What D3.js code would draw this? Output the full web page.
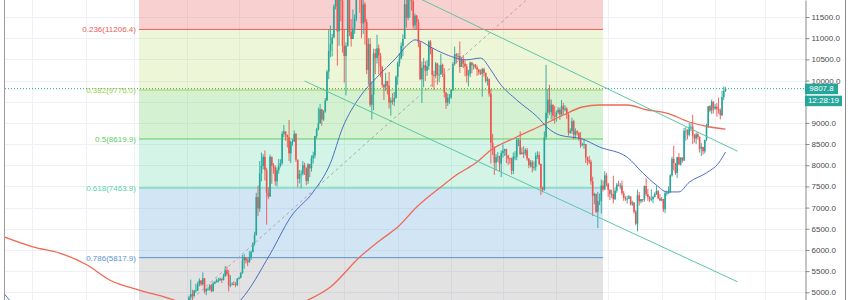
<!DOCTYPE html>
<html><head><meta charset="utf-8">
<script src="https://cdn.jsdelivr.net/npm/d3@7"></script>
<style>html,body{margin:0;padding:0;background:#fff;}svg{display:block;font-family:"Liberation Sans",Arial,sans-serif;}</style>
</head><body><svg id="c" width="850" height="300"></svg>
<script>
// ---------- DATA ----------
const startDate = "2019-04-02"; // first visible daily candle
const opens = [
4140,4880,4960,4910,5040,5040,5190,5280,5190,5330,5020,5070,5070,5160,5030,5210,5240,5280,5280,5320,5290,5380,5520,5430,5160,5180,5200,5190,5170,
5320,5340,5450,5750,5830,5750,5710,5820,5950,6160,6350,7250,6980,7810,7980,8200,7880,7350,7260,8200,7990,7950,7620,7880,7990,8050,8740,8800,8720,8660,8280,
8550,8560,8740,8130,7680,7790,7800,8000,7930,7630,8020,7930,8160,8230,8690,8850,8990,9320,9080,9270,9530,10210,10700,10860,11020,11750,12930,11160,12370,11890,
10820,10580,10820,11950,11150,10980,11230,11460,12300,12570,12100,11350,11800,11380,10250,10860,9430,9670,10640,10530,10760,10590,10330,9900,9840,9990,9880,9480,9530,9500,9590,
10090,10410,10520,10820,10980,11800,11480,11970,11970,11870,11300,11530,11380,10900,10030,10300,10360,10230,10340,10920,10760,10130,10110,10400,10140,10140,10370,10180,9720,9480,9590,
9600,9770,10390,10620,10580,10580,10320,10490,10400,10330,10120,10160,10420,10360,10370,10310,10260,10190,10160,10270,10180,9990,10030,9690,8530,8430,8060,8190,8210,8040,
8290,8340,8380,8230,8160,8150,7870,8200,8200,8590,8590,8260,8300,8280,8360,8160,8000,8070,7950,7960,8220,8240,8030,7470,7420,8660,9240,9550,9250,9430,9170,
9150,9250,9310,9200,9400,9310,9340,9200,8770,8810,9040,8720,8800,8760,8630,8470,8490,8500,8180,8120,8080,7620,7280,7320,6900,7150,7160,7520,7430,7760,
7570,7420,7320,7320,7200,7400,7540,7520,7520,7340,7230,7210,7210,7260,7080,7120,6900,6620,7290,7150,7200,7190,7510,7320,7250,7200,7200,7250,7320,7390,7220,
7170,7200,6960,7340,7350,7360,7760,8150,8050,7820,8190,8020,8180,8110,8810,8820,8720,8900,8910,8700,8630,8730,8670,8390,8430,8330,8600,8900,9390,9290,9500,
9340,9380,9330,9290,9180,9610,9750];
const highs = [
4920,5300,5060,5060,5200,5250,5330,5280,5470,5340,5100,5120,5190,5200,5250,5270,5320,5340,5350,5330,5440,5620,5610,5530,5400,5240,5260,5240,5340,
5370,5480,5880,5900,5830,5800,5970,5990,6180,6430,7350,7520,8100,8300,8260,8350,7940,7480,8250,8200,8050,8000,7950,8150,8140,8800,8950,8800,8720,9070,8580,
8620,8820,8760,8130,7890,7880,8100,8060,7950,8050,8030,8230,8320,8690,8880,9360,9450,9330,9300,9590,10250,11200,11300,11100,11800,13880,13400,12450,12400,12200,
11200,10900,12000,12050,11450,11680,11560,12360,12800,13150,12130,11900,11850,11450,11000,11000,9980,10750,10750,11080,10850,10650,10330,9920,10180,9990,10200,9600,9700,9730,10120,
10450,10650,10900,11090,11900,12320,12100,12050,12030,11950,11580,11550,11450,10920,10450,10530,10460,10480,10950,10950,10760,10230,10440,10420,10370,10630,10400,10290,9720,9690,9680,
9800,10440,10800,10650,10650,10920,10560,10600,10480,10390,10250,10450,10440,10400,10390,10360,10270,10260,10300,10300,10190,10090,10050,9800,8740,8450,8260,8310,8220,8350,
8490,8390,8390,8240,8180,8180,8300,8330,8650,8640,8800,8420,8450,8400,8410,8170,8120,8120,8090,8300,8330,8320,8040,7490,8800,10370,9800,9900,9550,9430,9400,
9290,9370,9360,9540,9470,9420,9370,9230,8870,9120,9070,8870,8830,8790,8780,8530,8620,8500,8200,8220,8130,7730,7350,7330,7370,7330,7660,7640,7860,7820,
7570,7430,7420,7750,7480,7580,7630,7580,7640,7390,7270,7280,7300,7270,7160,7130,6940,7420,7370,7200,7200,7520,7690,7440,7270,7430,7280,7360,7520,7410,7320,
7250,7210,7400,7400,7500,7790,8200,8460,8050,8200,8290,8190,8190,8880,8900,8850,9000,8990,9190,8740,8770,8790,8680,8520,8440,8600,8980,9400,9420,9550,9510,
9440,9470,9600,9340,9760,9860,9850];
const lows = [
4140,4820,4790,4900,4990,5030,5140,5150,5160,4970,4930,5040,5040,5000,5010,5190,5230,5230,5270,5220,5280,5370,5380,5020,5120,5160,5170,5120,5150,
5300,5330,5440,5560,5680,5620,5700,5760,5940,6100,6340,6800,6900,7620,7900,7640,6600,7200,7250,7560,7800,7520,7500,7800,7950,8010,8660,8580,8420,8100,8050,
8460,8550,8080,7480,7570,7460,7760,7770,7530,7560,7720,7850,8040,8160,8630,8820,8980,8930,9050,9240,9520,10030,10550,10570,11000,11680,10350,10820,11400,10660,
9950,9650,10800,11050,10800,10980,11100,11400,12100,11600,11000,11100,10850,10150,9900,9380,9080,9300,10150,10400,10150,10080,9830,9540,9750,9670,9340,9170,9430,9400,9570,
9900,10330,10500,10570,10980,11250,11420,11480,11650,11230,11200,11200,10790,10010,9470,9840,9990,10110,10250,10620,9850,9780,10050,9900,9960,10140,10080,9600,9330,9400,9450,
9570,9760,10350,10400,10480,10180,10320,10290,10100,9950,9860,10080,10170,10260,10280,10110,10130,10130,9620,10090,9950,9880,9620,8040,8240,7770,7880,8080,7860,7720,
8180,8220,8050,8010,8030,7780,7790,8120,8120,8450,8250,8260,8170,8230,8110,7930,7950,7830,7880,7870,8150,8000,7300,7360,7400,8600,9110,9190,9080,9050,8980,
9030,9210,9070,9150,9200,9270,9090,8700,8740,8750,8610,8630,8700,8580,8410,8450,8390,8050,8000,8030,7540,6800,7080,6870,6520,7060,6860,7380,7410,7500,
7250,7180,7230,7100,7180,7350,7500,7430,7300,7160,7160,7100,7200,7050,7040,6860,6580,6440,7050,7100,7130,7140,7270,7160,7130,7150,7100,7240,7300,7200,7150,
7150,6900,6870,7280,7320,7350,7730,7880,7770,7700,8000,7990,8060,8100,8580,8610,8680,8800,8500,8530,8500,8610,8300,8220,8250,8280,8570,8880,9250,9210,9220,
9300,9150,9220,9080,9160,9540,9730];
const closes = [
4880,4960,4910,5040,5040,5190,5280,5190,5330,5020,5070,5070,5160,5030,5210,5240,5280,5280,5320,5290,5380,5520,5430,5160,5180,5200,5190,5170,5320,
5340,5450,5750,5830,5750,5710,5820,5950,6160,6350,7250,6980,7810,7980,8200,7880,7350,7260,8200,7990,7950,7620,7880,7990,8050,8740,8800,8720,8660,8280,8550,
8560,8740,8130,7680,7790,7800,8000,7930,7630,8020,7930,8160,8230,8690,8850,8990,9320,9080,9270,9530,10210,10700,10860,11020,11750,12930,11160,12370,11890,10820,
10580,10820,11950,11150,10980,11230,11460,12300,12570,12100,11350,11800,11380,10250,10860,9430,9670,10640,10530,10760,10590,10330,9900,9840,9990,9880,9480,9530,9500,9590,10090,
10410,10520,10820,10980,11800,11480,11970,11970,11870,11300,11530,11380,10900,10030,10300,10360,10230,10340,10920,10760,10130,10110,10400,10140,10140,10370,10180,9720,9480,9590,9600,
9770,10390,10620,10580,10580,10320,10490,10400,10330,10120,10160,10420,10360,10370,10310,10260,10190,10160,10270,10180,9990,10030,9690,8530,8430,8060,8190,8210,8040,8290,
8340,8380,8230,8160,8150,7870,8200,8200,8590,8590,8260,8300,8280,8360,8160,8000,8070,7950,7960,8220,8240,8030,7470,7420,8660,9240,9550,9250,9430,9170,9150,
9250,9310,9200,9400,9310,9340,9200,8770,8810,9040,8720,8800,8760,8630,8470,8490,8500,8180,8120,8080,7620,7280,7320,6900,7150,7160,7520,7430,7760,7570,
7420,7320,7320,7200,7400,7540,7520,7520,7340,7230,7210,7210,7260,7080,7120,6900,6620,7290,7150,7200,7190,7510,7320,7250,7200,7200,7250,7320,7390,7220,7170,
7200,6960,7340,7350,7360,7760,8150,8050,7820,8190,8020,8180,8110,8810,8820,8720,8900,8910,8700,8630,8730,8670,8390,8430,8330,8600,8900,9390,9290,9500,9340,
9380,9330,9290,9180,9610,9750,9807.8];

// moving averages (days from startDate, value)
const ma200Days = [-107,-90,-75,-59,-46,-29,-14,1,35,59,69,82,99,111,121,132,146,155,167,175,190,205,217,228,238,254,266,277,290,302,311];
const ma200Vals = [6305,6069,5927,5644,5290,5054,4888,4700,4550,4650,4818,5125,5833,6234,6541,7014,7486,7769,8076,8360,8666,8950,9186,9375,9422,9422,9304,9233,9021,8903,8855];
const ma50Days = [-107,-103,-85,-50,-20,0,15,30,47,59,72,82,89,99,109,120,128,131,134,140,147,161,169,175,180,190,202,208,215,228,238,254,263,271,277,284,290,300,307,311];
const ma50Vals = [4959,4770,4350,3850,3850,4050,4400,4818,5900,6780,7370,8050,8880,9610,10080,10530,10890,10960,10930,10790,10650,10490,10530,10250,9940,9540,9140,8880,8710,8620,8430,8190,7820,7530,7370,7370,7600,7820,8050,8310];

// fibonacci retracement
const fibRatios = [0, 0.236, 0.382, 0.5, 0.618, 0.786, 1];
const fibPrices = [13518.6, 11206.4, 9776.0, 8619.9, 7463.9, 5817.9, 3721.3];
const fibDays = [-29, 240];

// descending channel
const channelDays = [67, 318];
const channelUpper = [13240, 8330];
const channelLower = [9989, 5248];

const priceTicks = [5000,5500,6000,6500,7000,7500,8000,8500,9000,9500,10000,10500,11000,11500];
const lastPrice = 9807.8;
const countdown = "12:28:19";
const xDomain = ["2018-12-16T08:00:00Z", "2020-03-24T02:24:00Z"];
const yDomain = [4818.2, 11901.4];

// ---------- STYLE ----------
const UP = "#26a69a", DOWN = "#ef5350";
const fibLineColors = ["#999","#e8605a","#a6cf4a","#62cd62","#56d2aa","#5b93cf","#999"];
const fibFills = ["rgba(232,80,80,0.27)","rgba(170,210,60,0.2)","rgba(100,210,90,0.28)","rgba(80,210,160,0.25)","rgba(90,160,215,0.27)","rgba(128,128,128,0.23)"];

// ---------- CHART ----------
const svg = d3.select("#c");
const L = 5, R = 805, T = 0, B = 300;
const start = new Date(startDate + "T00:00:00Z");
const dd = d => new Date(start.getTime() + d * 864e5);
const x = d3.scaleUtc().domain(xDomain.map(s => new Date(s))).range([L, R]);
const y = d3.scaleLinear().domain(yDomain).range([B, T]);

svg.append("defs").append("clipPath").attr("id","plot")
  .append("rect").attr("x",L).attr("y",T).attr("width",R-L).attr("height",B-T);

// grid
const grid = svg.append("g").attr("stroke","#edf1f7").attr("stroke-width",1);
grid.selectAll("line.h").data(priceTicks).join("line")
  .attr("x1",L).attr("x2",R).attr("y1",d=>Math.round(y(d))+0.5).attr("y2",d=>Math.round(y(d))+0.5);
grid.selectAll("line.v").data(d3.utcMonth.range(x.domain()[0], x.domain()[1])).join("line")
  .attr("y1",T).attr("y2",B).attr("x1",d=>Math.round(x(d))+0.5).attr("x2",d=>Math.round(x(d))+0.5);

const plot = svg.append("g").attr("clip-path","url(#plot)");

// fib fills
const fx0 = x(dd(fibDays[0])), fx1 = x(dd(fibDays[1]));
plot.append("g").selectAll("rect").data(d3.range(fibPrices.length-1)).join("rect")
  .attr("x",fx0).attr("width",fx1-fx0)
  .attr("y",i=>y(fibPrices[i])).attr("height",i=>y(fibPrices[i+1])-y(fibPrices[i]))
  .attr("fill",i=>fibFills[i]);
plot.append("g").selectAll("line").data(d3.range(fibPrices.length)).join("line")
  .attr("x1",fx0).attr("x2",fx1).attr("y1",i=>y(fibPrices[i])).attr("y2",i=>y(fibPrices[i]))
  .attr("stroke",i=>fibLineColors[i]).attr("stroke-width",1);
// labels only for levels inside the visible price range
const visibleLevels = d3.range(fibPrices.length).filter(i => fibPrices[i] > yDomain[0] && fibPrices[i] < yDomain[1]);
svg.append("g").selectAll("text").data(visibleLevels).join("text")
  .attr("x",fx0-3).attr("y",i=>y(fibPrices[i])+0.5)
  .attr("text-anchor","end").attr("dominant-baseline","central")
  .attr("font-size",8).attr("fill",i=>fibLineColors[i])
  .text(i=>`${fibRatios[i]}(${fibPrices[i].toFixed(1)})`);

// candles
const candles = closes.map((c,i)=>({d:dd(i),o:opens[i],h:highs[i],l:lows[i],c}));
const cg = plot.append("g");
cg.selectAll("line").data(candles).join("line")
  .attr("x1",d=>x(d.d)).attr("x2",d=>x(d.d)).attr("y1",d=>y(d.h)).attr("y2",d=>y(d.l))
  .attr("stroke",d=>d.c>=d.o?UP:DOWN).attr("stroke-width",0.9);
cg.selectAll("rect").data(candles).join("rect")
  .attr("x",d=>x(d.d)-0.8).attr("width",1.6)
  .attr("y",d=>y(Math.max(d.o,d.c)))
  .attr("height",d=>Math.max(0.8,Math.abs(y(d.o)-y(d.c))))
  .attr("fill",d=>d.c>=d.o?UP:DOWN);

// moving averages
const line = d3.line().curve(d3.curveMonotoneX).x(p=>x(dd(p[0]))).y(p=>y(p[1]));
plot.append("path").attr("d",line(ma200Days.map((d,i)=>[d,ma200Vals[i]])))
  .attr("fill","none").attr("stroke","#ef6a55").attr("stroke-width",1.3);
plot.append("path").attr("d",line(ma50Days.map((d,i)=>[d,ma50Vals[i]])))
  .attr("fill","none").attr("stroke","#4b6fc2").attr("stroke-width",1);

// channel
[channelUpper, channelLower].forEach(v=>{
  plot.append("line").attr("x1",x(dd(channelDays[0]))).attr("x2",x(dd(channelDays[1])))
    .attr("y1",y(v[0])).attr("y2",y(v[1])).attr("stroke","#5cc6a4").attr("stroke-width",1);
});

// fib trend line (dashed diagonal)
plot.append("line").attr("x1",fx0).attr("y1",y(fibPrices[6])).attr("x2",fx1).attr("y2",y(fibPrices[0]))
  .attr("stroke","#a8a8a8").attr("stroke-width",1).attr("stroke-dasharray","3,3");

// last price line
plot.append("line").attr("x1",L).attr("x2",R).attr("y1",y(lastPrice)).attr("y2",y(lastPrice))
  .attr("stroke",UP).attr("stroke-width",1).attr("stroke-dasharray","1,2");

// axis
const py = y(lastPrice);
const ax = svg.append("g").attr("transform",`translate(${R+0.5},0)`)
  .call(d3.axisRight(y).tickValues(priceTicks).tickFormat(d3.format(".1f")).tickSize(4).tickSizeOuter(0).tickPadding(2));
ax.select(".domain").attr("stroke","#8a8a8a");
ax.selectAll(".tick line").attr("stroke","#8a8a8a");
ax.selectAll(".tick text").attr("font-size",8).attr("fill","#4a4a4a").attr("font-family","Liberation Sans, Arial, sans-serif");
// tick label fully hidden behind the price/countdown labels (as in the original)
ax.selectAll(".tick").filter(d => Math.abs(y(d) - (py + 12)) < 5).select("text").remove();

// borders
svg.append("line").attr("x1",L-0.5).attr("x2",L-0.5).attr("y1",0).attr("y2",300).attr("stroke","#9a9a9a");
svg.append("line").attr("x1",845.5).attr("x2",845.5).attr("y1",0).attr("y2",300).attr("stroke","#8a8a8a");

// price labels
svg.append("rect").attr("x",R).attr("y",py-5).attr("width",33).attr("height",10.5).attr("fill",UP);
svg.append("text").attr("x",R+16.5).attr("y",py+0.3).attr("text-anchor","middle").attr("dominant-baseline","central")
  .attr("font-size",8).attr("fill","#fff").text(lastPrice.toFixed(1));
svg.append("rect").attr("x",R).attr("y",py+7).attr("width",37).attr("height",10.5).attr("fill",UP);
svg.append("text").attr("x",R+18.5).attr("y",py+12.3).attr("text-anchor","middle").attr("dominant-baseline","central")
  .attr("font-size",8).attr("fill","#fff").text(countdown);
</script></body></html>
